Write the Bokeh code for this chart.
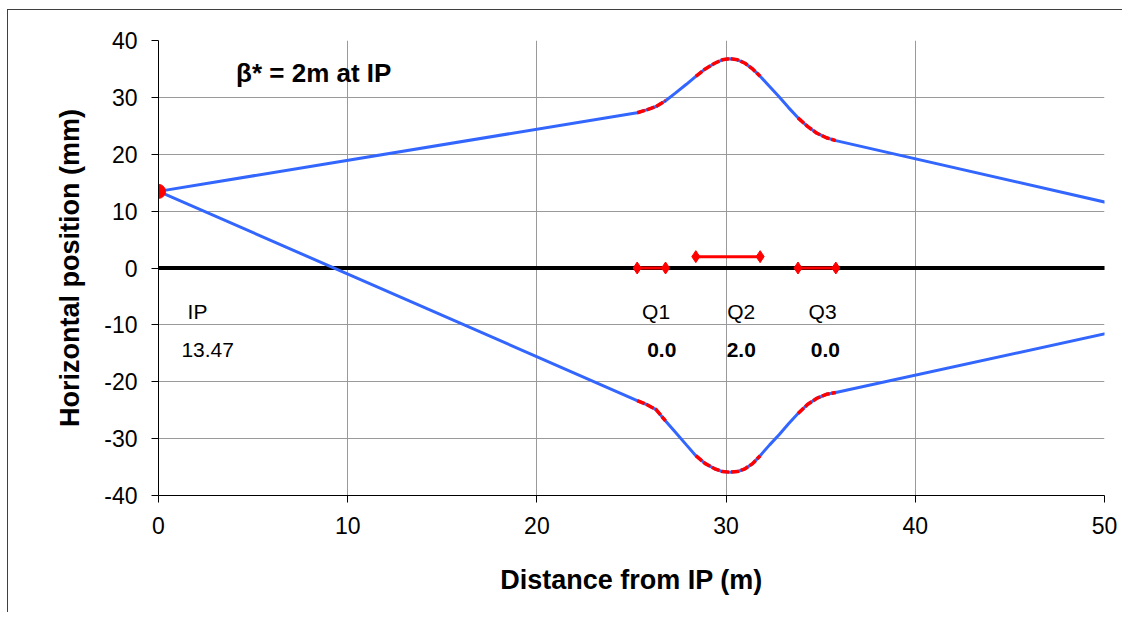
import numpy as np
from bokeh.plotting import figure
from bokeh.models import Range1d, FixedTicker
from bokeh.core.properties import value
from bokeh.embed import file_html
from bokeh.resources import INLINE

# ---- data ----
ip_x = 0.0
ip_y = 13.47

upper_x = [0.0, 25.3, 25.8, 26.3, 26.8, 27.3, 27.9, 28.4, 28.9, 29.4, 29.8, 30.2,
           30.6, 31.0, 31.4, 31.8, 32.3, 32.8, 33.3, 33.8, 34.3, 34.8, 35.3, 35.8, 50.4]
upper_y = [13.47, 27.3, 27.8, 28.4, 29.4, 30.7, 32.3, 33.7, 35.0, 36.0, 36.6, 36.8,
           36.6, 36.0, 35.0, 33.7, 31.9, 30.1, 28.2, 26.4, 24.9, 23.7, 22.9, 22.4, 11.3]

lower_x = [0.0, 25.3, 25.8, 26.3, 26.8, 27.3, 27.9, 28.4, 28.9, 29.4, 29.8, 30.2,
           30.6, 31.0, 31.4, 31.8, 32.3, 32.8, 33.3, 33.8, 34.3, 34.8, 35.3, 35.8, 50.4]
lower_y = [13.47, -23.3, -24.0, -24.9, -26.9, -28.8, -31.1, -33.0, -34.4, -35.3, -35.8, -35.9,
           -35.8, -35.3, -34.4, -33.0, -31.1, -29.3, -27.4, -25.6, -24.0, -22.9, -22.2, -21.9, -11.3]

quad_names = ["Q1", "Q2", "Q3"]
quad_start = [25.3, 28.4, 33.8]
quad_end = [26.8, 31.8, 35.8]
quad_level = [0.0, 2.0, 0.0]
quad_strength = ["0.0", "2.0", "0.0"]

x_ticks = [0, 10, 20, 30, 40, 50]
y_ticks = [-40, -30, -20, -10, 0, 10, 20, 30, 40]

# ---- styles ----
FONT = "Liberation Sans"
BLUE = "#3366ff"
RED = "#ff0000"

p = figure(width=1115, height=603, x_range=Range1d(0, 50), y_range=Range1d(-40, 40),
           output_backend="svg", toolbar_location=None,
           min_border_left=150, min_border_right=19, min_border_top=30, min_border_bottom=118)
p.styles = {"border-left": "1px solid #404040", "border-top": "1px solid #404040",
            "margin-left": "7px", "margin-top": "9px"}
p.outline_line_color = None
p.background_fill_color = "white"
p.border_fill_color = "white"

p.xaxis.ticker = FixedTicker(ticks=x_ticks)
p.yaxis.ticker = FixedTicker(ticks=y_ticks)
p.yaxis.major_label_overrides = {t: str(t) for t in y_ticks}
p.xgrid.ticker = FixedTicker(ticks=[t for t in x_ticks if 0 < t < 50])
p.ygrid.ticker = FixedTicker(ticks=[t for t in y_ticks if -40 < t < 40])
for g in (p.xgrid, p.ygrid):
    g.grid_line_color = "#9a9a9a"
    g.grid_line_width = 1

for ax in (p.xaxis, p.yaxis):
    ax.axis_line_color = "black"
    ax.axis_line_width = 1
    ax.major_tick_line_color = "black"
    ax.major_tick_out = 7
    ax.major_tick_in = 0
    ax.minor_tick_line_color = None
    ax.major_label_text_font = FONT
    ax.major_label_text_font_size = "23px"
    ax.major_label_text_color = "black"
    ax.axis_label_text_font = FONT
    ax.axis_label_text_font_size = "27px"
    ax.axis_label_text_font_style = "bold"
    ax.axis_label_text_color = "black"

p.xaxis.axis_label = "Distance from IP (m)"
p.yaxis.axis_label = "Horizontal position (mm)"
p.xaxis.major_label_standoff = 14
p.yaxis.major_label_standoff = 14
p.xaxis.axis_label_standoff = 28
p.yaxis.axis_label_standoff = 16

# zero line
p.line([0, 50.4], [0, 0], line_color="black", line_width=4)

# beam trajectories
p.line(upper_x, upper_y, line_color=BLUE, line_width=3)
p.line(lower_x, lower_y, line_color=BLUE, line_width=3)

# red overlay inside quadrupoles
for xs, ys in ((upper_x, upper_y), (lower_x, lower_y)):
    xa = np.array(xs)
    ya = np.array(ys)
    for s, e in zip(quad_start, quad_end):
        m = (xa >= s - 1e-9) & (xa <= e + 1e-9)
        p.line(xa[m], ya[m], line_color=RED, line_width=3.5, line_dash="8 2")

# quadrupole markers
for s, e, lv in zip(quad_start, quad_end, quad_level):
    p.line([s, e], [lv, lv], line_color=RED, line_width=3)
    p.scatter([s, e], [lv, lv], marker="diamond", size=12, color=RED)

# IP point
p.scatter([ip_x], [ip_y], size=14, color=RED)

# labels
label_x = [26.3, 30.8, 35.1]
val_x = [26.6, 30.8, 35.25]
p.text(x=label_x, y=[-7.6] * 3, text=quad_names, text_font=value(FONT),
       text_font_size="21px", text_align="center", text_baseline="middle", text_color="black")
p.text(x=val_x, y=[-14.5] * 3, text=quad_strength, text_font=value(FONT),
       text_font_size="21px", text_font_style="bold", text_align="center",
       text_baseline="middle", text_color="black")
p.text(x=[2.06], y=[-7.6], text=["IP"], text_font=value(FONT), text_font_size="21px",
       text_align="center", text_baseline="middle", text_color="black")
p.text(x=[2.6], y=[-14.5], text=[f"{ip_y:.2f}"], text_font=value(FONT), text_font_size="21px",
       text_align="center", text_baseline="middle", text_color="black")
p.text(x=[4.1], y=[34.2], text=["β* = 2m at IP"], text_font=value(FONT), text_font_size="26px",
       text_font_style="bold", text_align="left", text_baseline="middle", text_color="black")

open("out.html", "w").write(file_html(p, INLINE))
